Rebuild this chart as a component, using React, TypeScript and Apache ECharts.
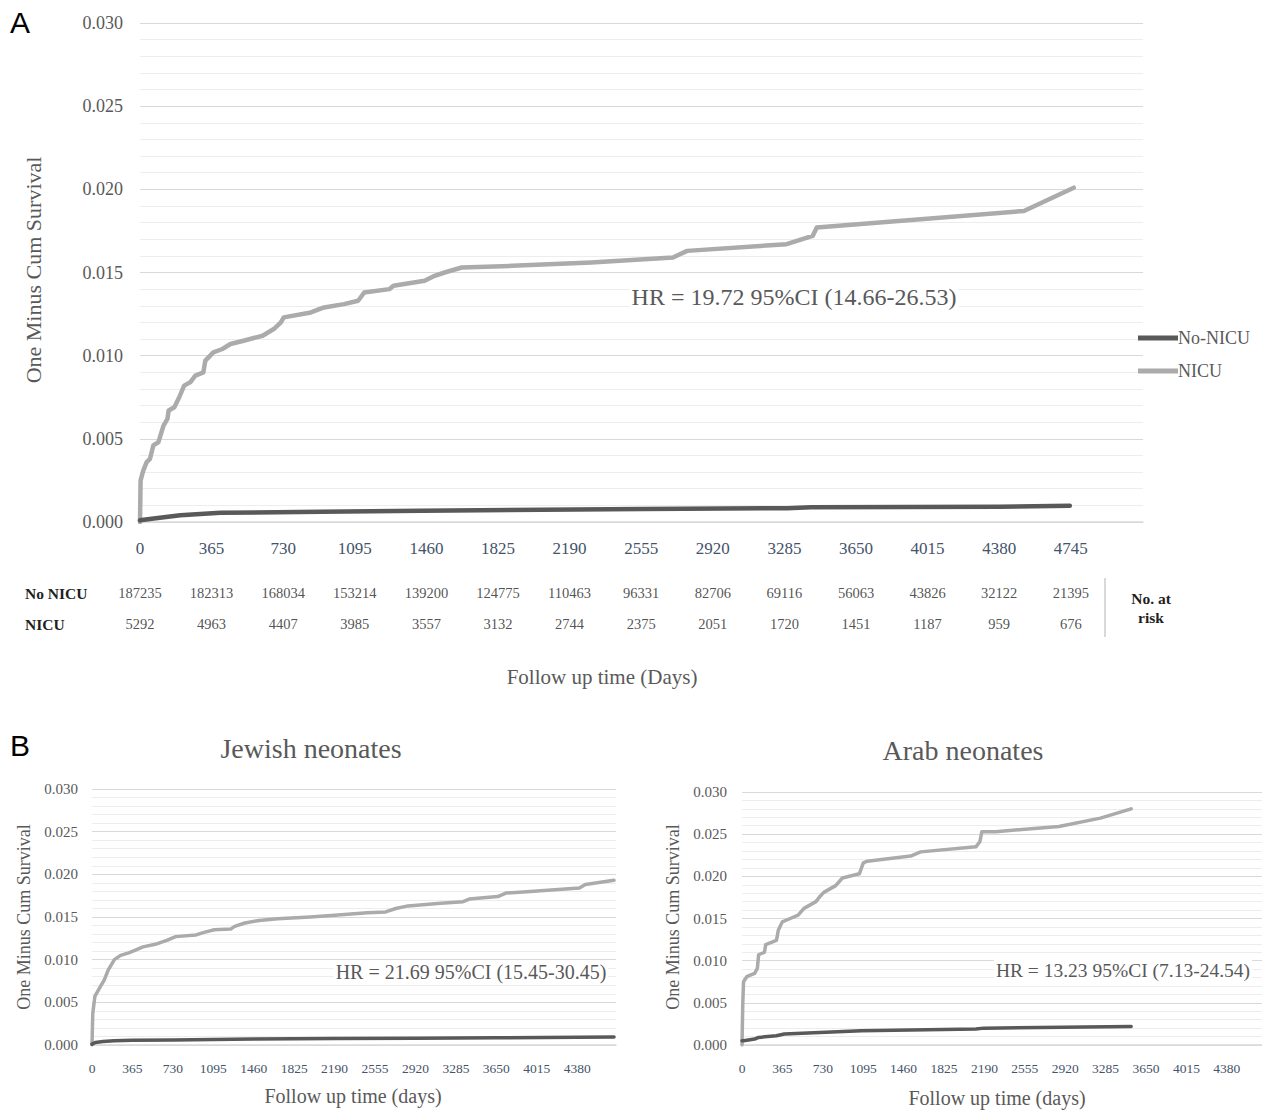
import React, { useEffect, useRef } from "react";
import * as echarts from "echarts";

const SERIF = "'Liberation Serif', 'Times New Roman', serif";
const SANS = "'Liberation Sans', Arial, sans-serif";
const DARK = "#595959";
const LIGHT = "#ABABAB";
const TEXT = "#595959";
const XLAB = "#44546A";

// Panel A: whole cohort (days, one minus cum survival)
const aNicu: [number, number][] = [
  [0, 0], [3, 0.0025], [17, 0.0031], [34, 0.0036], [51, 0.0038], [68, 0.0046], [94, 0.0048],
  [120, 0.0058], [140, 0.0062], [146, 0.0067], [175, 0.0069], [200, 0.0075], [225, 0.0082],
  [256, 0.0084], [282, 0.0088], [323, 0.009], [333, 0.0097], [374, 0.0102], [420, 0.0104],
  [461, 0.0107], [528, 0.0109], [625, 0.0112], [682, 0.0116], [718, 0.012], [733, 0.0123],
  [871, 0.0126], [938, 0.0129], [1040, 0.0131], [1112, 0.0133], [1143, 0.0138], [1271, 0.014],
  [1292, 0.0142], [1451, 0.0145], [1502, 0.0148], [1553, 0.015], [1640, 0.0153], [1897, 0.0154],
  [2300, 0.0156], [2717, 0.0159], [2789, 0.0163], [3296, 0.0167], [3429, 0.0172], [3450, 0.0177],
  [4506, 0.0187], [4760, 0.0201],
];
const aNoNicu: [number, number][] = [
  [0, 0.0001], [60, 0.0002], [205, 0.0004], [410, 0.00055], [923, 0.00062], [1435, 0.00068],
  [2563, 0.00078], [3300, 0.00083], [3420, 0.00088], [4380, 0.00092], [4740, 0.00098],
];

// Panel B left: Jewish neonates
const jNicu: [number, number][] = [
  [0, 0], [7, 0.0037], [26, 0.0057], [74, 0.0068], [110, 0.0076], [147, 0.0088], [202, 0.01],
  [258, 0.0105], [331, 0.0108], [387, 0.0111], [460, 0.0115], [571, 0.0118], [681, 0.0123],
  [755, 0.0127], [939, 0.0129], [1012, 0.0132], [1104, 0.0135], [1252, 0.0136], [1288, 0.0139],
  [1380, 0.0143], [1509, 0.0146], [1675, 0.0148], [1969, 0.015], [2190, 0.0152], [2485, 0.0155],
  [2650, 0.0156], [2742, 0.016], [2853, 0.0163], [3147, 0.0166], [3350, 0.0168], [3405, 0.0171],
  [3662, 0.0174], [3736, 0.0178], [3957, 0.018], [4399, 0.0184], [4454, 0.0188], [4712, 0.0193],
];
const jNoNicu: [number, number][] = [
  [0, 0.0001], [30, 0.0003], [100, 0.0004], [200, 0.0005], [365, 0.00055], [730, 0.0006],
  [1460, 0.0007], [2190, 0.00075], [2920, 0.0008], [3650, 0.00085], [4380, 0.0009], [4712, 0.00095],
];

// Panel B right: Arab neonates
const arNicu: [number, number][] = [
  [0, 0], [7, 0.0049], [14, 0.0075], [43, 0.0081], [114, 0.0085], [139, 0.0091], [150, 0.0107],
  [203, 0.011], [214, 0.0119], [311, 0.0124], [328, 0.0136], [364, 0.0146], [436, 0.015],
  [507, 0.0154], [560, 0.0162], [668, 0.017], [703, 0.0176], [739, 0.0181], [846, 0.0189],
  [907, 0.0198], [1060, 0.0203], [1096, 0.0216], [1132, 0.0218], [1524, 0.0224], [1614, 0.0229],
  [2113, 0.0235], [2149, 0.0241], [2167, 0.0253], [2292, 0.0253], [2863, 0.0259], [3238, 0.0269],
  [3516, 0.028],
];
const arNoNicu: [number, number][] = [
  [0, 0.0005], [14, 0.0005], [114, 0.0007], [150, 0.0009], [311, 0.0011], [382, 0.0013],
  [1078, 0.0017], [2113, 0.0019], [2185, 0.002], [3516, 0.0022],
];

// Number at risk table
const riskDays = [0, 365, 730, 1095, 1460, 1825, 2190, 2555, 2920, 3285, 3650, 4015, 4380, 4745];
const riskNoNicu = [187235, 182313, 168034, 153214, 139200, 124775, 110463, 96331, 82706, 69116, 56063, 43826, 32122, 21395];
const riskNicu = [5292, 4963, 4407, 3985, 3557, 3132, 2744, 2375, 2051, 1720, 1451, 1187, 959, 676];
const riskRows = ["NICU", "No NICU"];

const seriesNames = ["No-NICU", "NICU"];

function yAxisCfg(gridIndex: number, fontSize: number, margin: number) {
  return {
    type: "value",
    gridIndex,
    min: 0,
    max: 0.03,
    interval: 0.005,
    axisLine: { show: false },
    axisTick: { show: false },
    axisLabel: {
      formatter: (v: number) => v.toFixed(3),
      color: TEXT,
      fontFamily: SERIF,
      fontSize,
      margin,
    },
    splitLine: { show: true, lineStyle: { color: "#D9D9D9", width: 1 } },
    minorTick: { show: false, splitNumber: 5 },
    minorSplitLine: { show: true, lineStyle: { color: "#EDEDED", width: 1 } },
  };
}

function xAxisCfg(gridIndex: number, max: number, lastLabel: number, fontSize: number, margin: number) {
  return {
    type: "value",
    gridIndex,
    min: 0,
    max,
    interval: 365,
    axisLine: { show: true, lineStyle: { color: "#D9D9D9", width: 1.5 } },
    axisTick: { show: false },
    splitLine: { show: false },
    axisLabel: {
      color: XLAB,
      fontFamily: SERIF,
      fontSize,
      margin,
      showMaxLabel: false,
      formatter: (v: number) => (v <= lastLabel ? String(v) : ""),
    },
  };
}

function lineSeries(name: string, data: [number, number][], idx: number, color: string, width: number) {
  return {
    type: "line",
    name,
    xAxisIndex: idx,
    yAxisIndex: idx,
    data,
    symbol: "none",
    lineStyle: { color, width, cap: "round", join: "round" },
    itemStyle: { color },
    z: name === "NICU" ? 3 : 4,
  };
}

function txt(text: string, x: number, y: number, fontSize: number, extra: any = {}) {
  const style: any = {
    text,
    fill: extra.fill || TEXT,
    fontSize,
    fontFamily: extra.fontFamily || SERIF,
    fontWeight: extra.fontWeight || "normal",
    align: "center",
    verticalAlign: "middle",
  };
  if (extra.bg) {
    style.backgroundColor = "#ffffff";
    style.padding = [1, 2];
  }
  return {
    type: "text",
    x,
    y,
    z: 100,
    rotation: extra.rotation || 0,
    style,
  };
}

export default function App() {
  const ref = useRef<HTMLDivElement>(null);
  useEffect(() => {
    const chart = echarts.init(ref.current!, null, { renderer: "svg" });
    const riskSeries = [riskNoNicu, riskNicu].map((vals, r) => ({
      type: "scatter",
      name: "risk" + r,
      xAxisIndex: 3,
      yAxisIndex: 3,
      symbolSize: 1,
      itemStyle: { color: "rgba(0,0,0,0)" },
      data: riskDays.map((d, i) => [d, r === 0 ? "No NICU" : "NICU", vals[i]]),
      label: {
        show: true,
        position: "inside",
        formatter: (p: any) => String(p.value[2]),
        color: "#262626",
        fontFamily: SERIF,
        fontSize: 14.5,
      },
      silent: true,
    }));

    const option: any = {
      animation: false,
      backgroundColor: "#ffffff",
      grid: [
        { left: 140, top: 23, width: 1003, height: 499 },
        { left: 92, top: 789, width: 524, height: 256 },
        { left: 742, top: 792, width: 520, height: 253 },
        { left: 140, top: 577.5, width: 1003, height: 62 },
      ],
      xAxis: [
        xAxisCfg(0, 5113, 4745, 17, 18),
        xAxisCfg(1, 4730, 4380, 13.5, 16),
        xAxisCfg(2, 4698, 4380, 13.5, 16),
        { type: "value", gridIndex: 3, min: 0, max: 5113, show: false },
      ],
      yAxis: [
        yAxisCfg(0, 18, 17),
        yAxisCfg(1, 15, 14),
        yAxisCfg(2, 15, 15),
        {
          type: "category",
          gridIndex: 3,
          data: riskRows,
          axisLine: { show: false },
          axisTick: { show: false },
          splitLine: { show: false },
          axisLabel: {
            align: "left",
            margin: 115,
            fontWeight: "bold",
            fontFamily: SERIF,
            fontSize: 15.5,
            color: "#1f1f1f",
          },
        },
      ],
      legend: {
        data: seriesNames,
        orient: "vertical",
        left: 1133,
        top: 324,
        itemWidth: 40,
        itemHeight: 5,
        itemGap: 15,
        icon: "rect",
        textStyle: { color: TEXT, fontFamily: SERIF, fontSize: 18, padding: [0, 0, 0, -5] },
        selectedMode: false,
      },
      series: [
        lineSeries("NICU", aNicu, 0, LIGHT, 4.5),
        lineSeries("No-NICU", aNoNicu, 0, DARK, 4.5),
        lineSeries("NICU", jNicu, 1, LIGHT, 3.5),
        lineSeries("No-NICU", jNoNicu, 1, DARK, 3.5),
        lineSeries("NICU", arNicu, 2, LIGHT, 3.5),
        lineSeries("No-NICU", arNoNicu, 2, DARK, 3.5),
        ...riskSeries,
      ],
      graphic: [
        txt("A", 20, 22, 30, { fontFamily: SANS, fill: "#000" }),
        txt("B", 20, 745, 30, { fontFamily: SANS, fill: "#000" }),
        txt("One Minus Cum Survival", 33, 270, 22, { rotation: Math.PI / 2 }),
        txt("HR = 19.72 95%CI (14.66-26.53)", 794, 297, 24, { bg: true }),
        txt("Follow up time (Days)", 602, 677, 21),
        {
          type: "line",
          shape: { x1: 1105, y1: 578, x2: 1105, y2: 637 },
          style: { stroke: "#D9D9D9", lineWidth: 2 },
        },
        txt("No. at", 1151, 598, 15.5, { fontWeight: "bold", fill: "#1f1f1f" }),
        txt("risk", 1151, 617, 15.5, { fontWeight: "bold", fill: "#1f1f1f" }),
        txt("Jewish neonates", 311, 748, 28),
        txt("Arab neonates", 963, 750, 28),
        txt("One Minus Cum Survival", 24, 917, 18, { rotation: Math.PI / 2 }),
        txt("One Minus Cum Survival", 673, 917, 18, { rotation: Math.PI / 2 }),
        txt("Follow up time (days)", 353, 1096, 20),
        txt("Follow up time (days)", 997, 1098, 20),
        txt("HR = 21.69 95%CI (15.45-30.45)", 471, 972, 20, { bg: true }),
        txt("HR = 13.23 95%CI (7.13-24.54)", 1123, 970, 19.5, { bg: true }),
      ],
    };
    chart.setOption(option);
    return () => chart.dispose();
  }, []);
  return (
    <div
      ref={ref}
      style={{ position: "absolute", left: 0, top: 0, width: 1262, height: 1110, background: "#fff" }}
    />
  );
}
